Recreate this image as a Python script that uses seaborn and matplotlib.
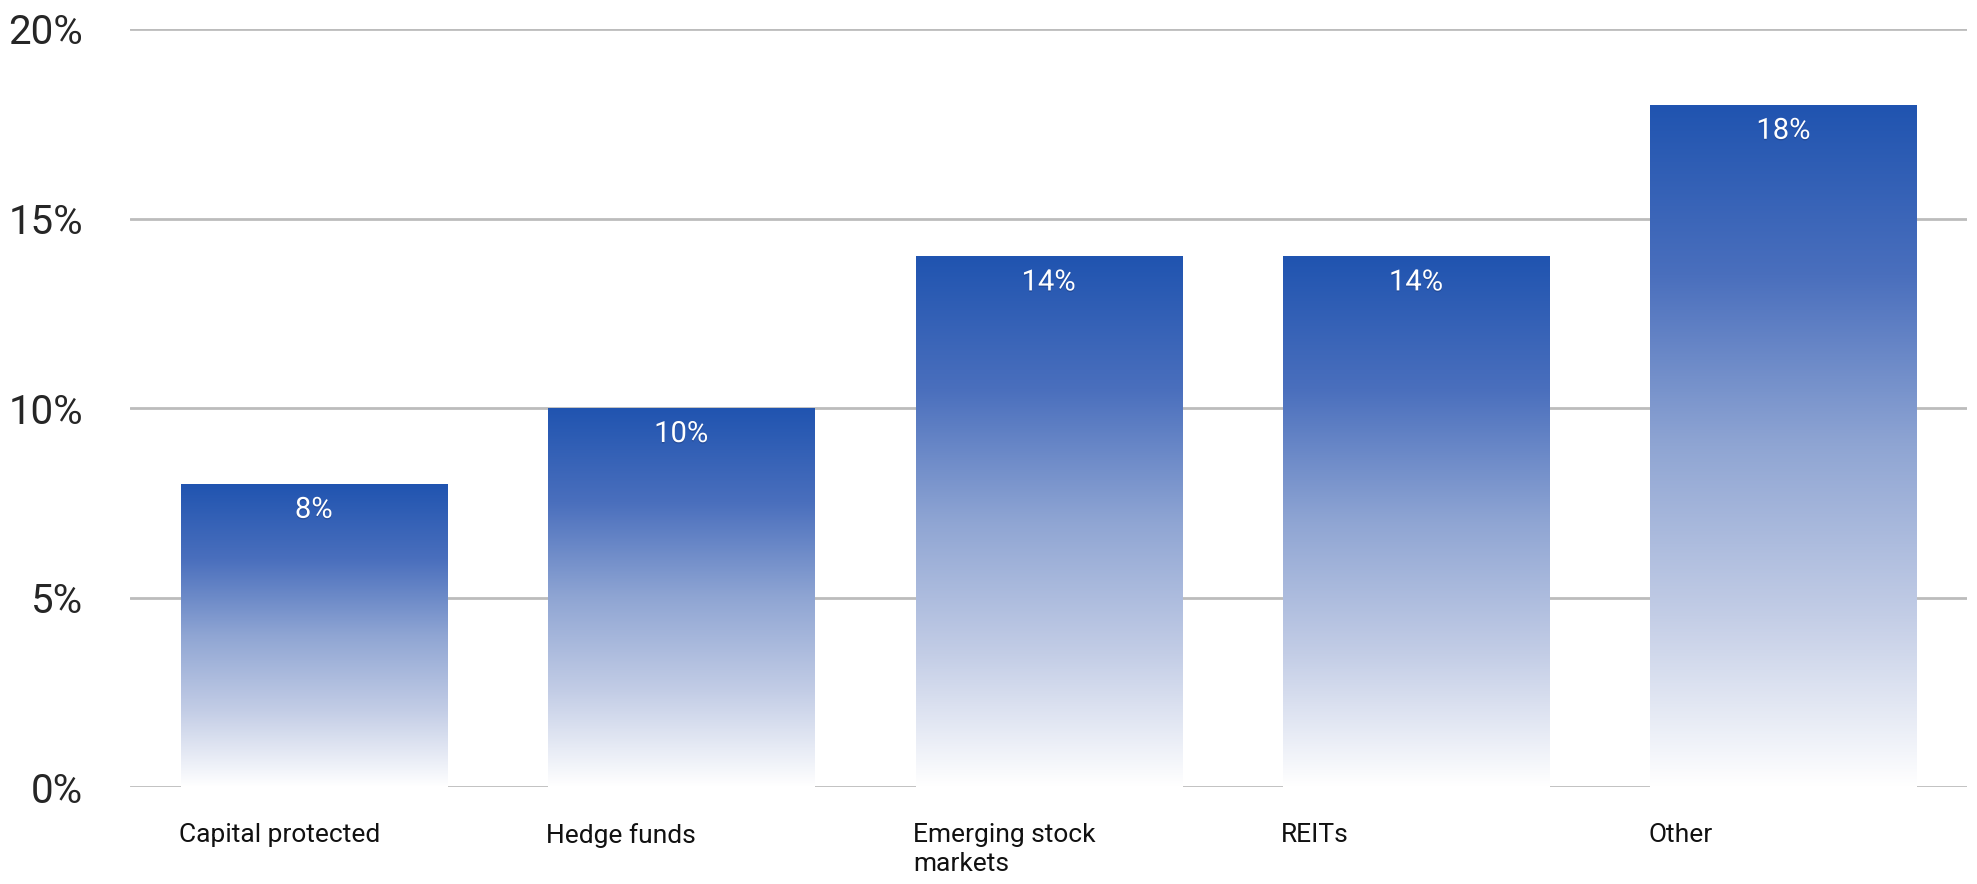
import matplotlib
matplotlib.use('Agg')
import matplotlib.pyplot as plt
import matplotlib.patheffects as pe
from matplotlib.colors import LinearSegmentedColormap
import numpy as np
import pandas as pd
import seaborn as sns

categories = ['Capital protected', 'Hedge funds', 'Emerging stock\nmarkets', 'REITs', 'Other']
shares = [8, 10, 14, 14, 18]
yticks = [0, 5, 10, 15, 20]

sns.set_style('white')
plt.rcParams['font.family'] = ['Roboto', 'DejaVu Sans']

df = pd.DataFrame({'category': categories, 'share': shares})

fig = plt.figure(figsize=(19.77, 8.84), dpi=100)
ax = fig.add_axes([0.0658, 0.1097, 0.9292, 0.8575])

sns.barplot(data=df, x='category', y='share', width=0.724, color='#2255b0', ax=ax, zorder=3)

# gradient fill: dark blue at top of each bar fading to white at its base
cmap = LinearSegmentedColormap.from_list('fade', ['#ffffff', '#c3cde6', '#8fa5d3', '#4a6fbd', '#2054b0'])
grad = np.linspace(0, 1, 256).reshape(-1, 1)
for p in ax.patches:
    x0, y0 = p.get_x(), p.get_y()
    w, h = p.get_width(), p.get_height()
    im = ax.imshow(grad, cmap=cmap, origin='lower', aspect='auto',
                   extent=[x0, x0 + w, y0, y0 + h], zorder=3)
    im.set_clip_path(p)
    p.set_facecolor('none')
    p.set_edgecolor('none')

ax.set_xlim(-0.5, len(categories) - 0.5)
ax.set_ylim(0, 20)
ax.set_yticks(yticks)
ax.set_yticklabels([f'{v}%' for v in yticks], fontsize=29)
ax.tick_params(axis='y', length=0, pad=34)
ax.yaxis.grid(True, color='#bcbcbc', linewidth=2, zorder=0)
ax.set_axisbelow(True)
for s in ax.spines.values():
    s.set_visible(False)

ax.set_xticks([])
ax.set_xlabel('')
ax.set_ylabel('')
trans = ax.get_xaxis_transform()
for i, lab in enumerate(categories):
    ax.text(i - 0.368, -0.047, lab, transform=trans, ha='left', va='top',
            fontsize=19, color='#111111', linespacing=1.3)

shadow = [pe.withSimplePatchShadow(offset=(0, -1), shadow_rgbFace='#1a3370', alpha=0.4)]
for i, v in enumerate(shares):
    ax.annotate(f'{v}%', (i, v), xytext=(0, -26), textcoords='offset pixels',
                ha='center', va='center', fontsize=21, color='white',
                path_effects=shadow, zorder=5)

fig.savefig('out.png', dpi=100)
